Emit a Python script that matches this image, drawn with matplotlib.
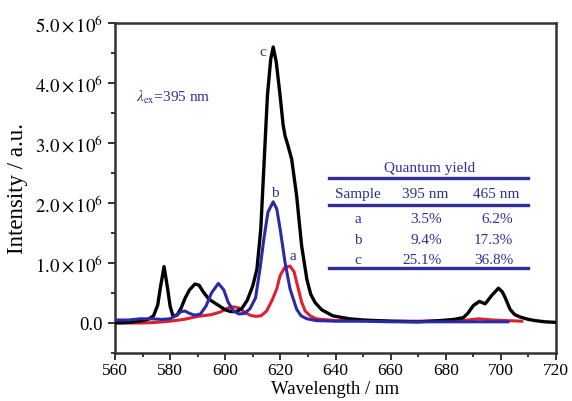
import numpy as np
import matplotlib
matplotlib.use("Agg")
from matplotlib import pyplot as plt
from matplotlib.ticker import MultipleLocator, FuncFormatter
from matplotlib.lines import Line2D

plt.rcParams['font.family'] = ['Liberation Serif', 'DejaVu Serif']
plt.rcParams['mathtext.fontset'] = 'stix'

# curve c (black), intensity in units of 1e6
wl_c = [560, 565, 569, 572, 574, 575.5, 576.5, 577.8, 579, 580, 581, 582.5, 584, 585.5,
        587, 589, 590.5, 592, 594, 596, 598, 600, 602, 604, 606, 608, 610, 611.5, 612.9,
        614.1, 615.3, 616.5, 617.4, 618.5, 619.9, 621, 621.7, 622.8, 624.1, 625.9, 627.7,
        629.6, 631, 632.6, 635, 639, 645, 650, 660, 670, 678, 683, 686.4, 688, 690, 692.2,
        694.3, 696.7, 699.1, 700.5, 701.5, 703.3, 705, 707, 710, 712.4, 716, 720]
int_c = [0.00, 0.01, 0.03, 0.06, 0.12, 0.30, 0.60, 0.94, 0.60, 0.28, 0.12, 0.13, 0.25, 0.42,
         0.55, 0.65, 0.63, 0.52, 0.40, 0.34, 0.28, 0.22, 0.19, 0.19, 0.24, 0.38, 0.62, 0.90, 1.57,
         2.68, 3.79, 4.40, 4.60, 4.35, 3.79, 3.30, 3.12, 2.95, 2.73, 2.12, 1.29,
         0.73, 0.48, 0.34, 0.22, 0.12, 0.07, 0.05, 0.03, 0.02, 0.04, 0.06, 0.09, 0.16, 0.29, 0.36,
         0.32, 0.46, 0.58, 0.52, 0.43, 0.23, 0.14, 0.10, 0.06, 0.04, 0.02, 0.01]

# curve b (blue)
wl_b = [560, 565, 569, 573, 577, 580, 582, 584, 585.4, 587, 589, 591, 593, 595, 597.5,
        599.5, 601, 603, 605, 607, 609, 611, 612.6, 614, 615.5, 617.4, 618.7, 619.9, 621.7,
        623.5, 625.9, 627.5, 629.6, 633, 640, 650, 660, 670, 680, 690, 702.6]
int_b = [0.05, 0.05, 0.07, 0.07, 0.06, 0.07, 0.12, 0.19, 0.20, 0.16, 0.13, 0.15, 0.28, 0.50, 0.66,
         0.55, 0.35, 0.20, 0.15, 0.16, 0.24, 0.42, 0.90, 1.40, 1.85, 2.02, 1.90, 1.57, 1.01,
         0.57, 0.23, 0.12, 0.07, 0.04, 0.03, 0.03, 0.02, 0.02, 0.02, 0.02, 0.02]

# curve a (red)
wl_a = [562, 570, 575, 580, 585, 590, 595, 598, 601, 603, 605, 607, 609, 611, 613, 615, 617,
        618.7, 619.9, 621.5, 623.5, 625, 625.9, 627.7, 629, 630.8, 633, 640, 650, 660, 670,
        680, 686, 692, 697, 702, 707.6]
int_a = [0.00, 0.00, 0.01, 0.03, 0.06, 0.11, 0.14, 0.18, 0.25, 0.27, 0.25, 0.18, 0.13, 0.11, 0.12, 0.20, 0.38,
         0.57, 0.79, 0.92, 0.95, 0.85, 0.68, 0.35, 0.20, 0.12, 0.07, 0.04, 0.04, 0.03, 0.03,
         0.03, 0.04, 0.07, 0.05, 0.04, 0.03]

samples = ['a', 'b', 'c']
qy_395 = ['3.5%', '9.4%', '25.1%']
qy_465 = ['6.2%', '17.3%', '36.8%']

navy = '#2e2e96'
W, H = 572, 402

fig = plt.figure(figsize=(5.72, 4.02), dpi=100)
ax = fig.add_axes([115 / W, 1 - 354 / H, 441 / W, 330 / H])

ax.plot(wl_c, np.array(int_c) * 1e6, color='black', lw=2.4, zorder=3)
ax.plot(wl_b, np.array(int_b) * 1e6, color='#2a2aa8', lw=2.2, zorder=4)
ax.plot(wl_a, np.array(int_a) * 1e6, color='#e0202c', lw=2.2, zorder=2)

ax.text(613.7, 4.53e6, 'c', color=navy, fontsize=11, ha='center', va='center')
ax.text(618.1, 2.18e6, 'b', color=navy, fontsize=11, ha='center', va='center')
ax.text(624.5, 1.12e6, 'a', color=navy, fontsize=11, ha='center', va='center')
ax.text(567.5, 3.77e6, r'$\lambda_{\rm ex}$=395 nm', color=navy, fontsize=11, va='center')

ax.set_xlim(560, 720)
ax.set_ylim(-0.5e6, 5.0e6)
ax.xaxis.set_major_locator(MultipleLocator(20))
ax.xaxis.set_minor_locator(MultipleLocator(10))
ax.yaxis.set_major_locator(MultipleLocator(1e6))
ax.yaxis.set_minor_locator(MultipleLocator(0.5e6))


def fmt(v, pos):
    if abs(v) < 1:
        return '0.0'
    return r'$%.1f\times10^{6}$' % (v / 1e6)


ax.yaxis.set_major_formatter(FuncFormatter(fmt))
ax.tick_params(which='both', direction='out', width=1.4, colors='#333333', labelcolor='black')
ax.tick_params(axis='x', labelsize=12.5, pad=1.5)
ax.tick_params(axis='y', labelsize=13.5)
ax.tick_params(which='major', length=5)
ax.tick_params(which='minor', length=3)
for s in ax.spines.values():
    s.set_linewidth(1.8)
    s.set_color('#333333')

ax.set_xlabel('Wavelength / nm', fontsize=13.5)
ax.set_ylabel('Intensity / a.u.', fontsize=16.5)
ax.xaxis.set_label_coords(0.5, -0.082)
ax.yaxis.set_label_coords(-0.197, 0.5)

# quantum yield table
def fx(px):
    return px / W


def fy(py):
    return 1 - py / H


fig.text(fx(430), fy(171.7), 'Quantum yield', color=navy, fontsize=11, ha='center', va='baseline')
fig.text(fx(358), fy(198.3), 'Sample', color=navy, fontsize=11, ha='center', va='baseline')
fig.text(fx(425), fy(198.3), '395 nm', color=navy, fontsize=11, ha='center', va='baseline')
fig.text(fx(496), fy(198.3), '465 nm', color=navy, fontsize=11, ha='center', va='baseline')
for i, s in enumerate(samples):
    yb = 223.3 + 20.5 * i
    fig.text(fx(358), fy(yb), s, color=navy, fontsize=11, ha='center', va='baseline')
    fig.text(fx(442), fy(yb), qy_395[i], color=navy, fontsize=11, ha='right', va='baseline')
    fig.text(fx(513), fy(yb), qy_465[i], color=navy, fontsize=11, ha='right', va='baseline')
for yl in [179, 205.7, 269]:
    fig.add_artist(Line2D([fx(329), fx(528)], [fy(yl), fy(yl)], color=navy, lw=2.4))

fig.savefig('out.png', dpi=100, facecolor='white')
